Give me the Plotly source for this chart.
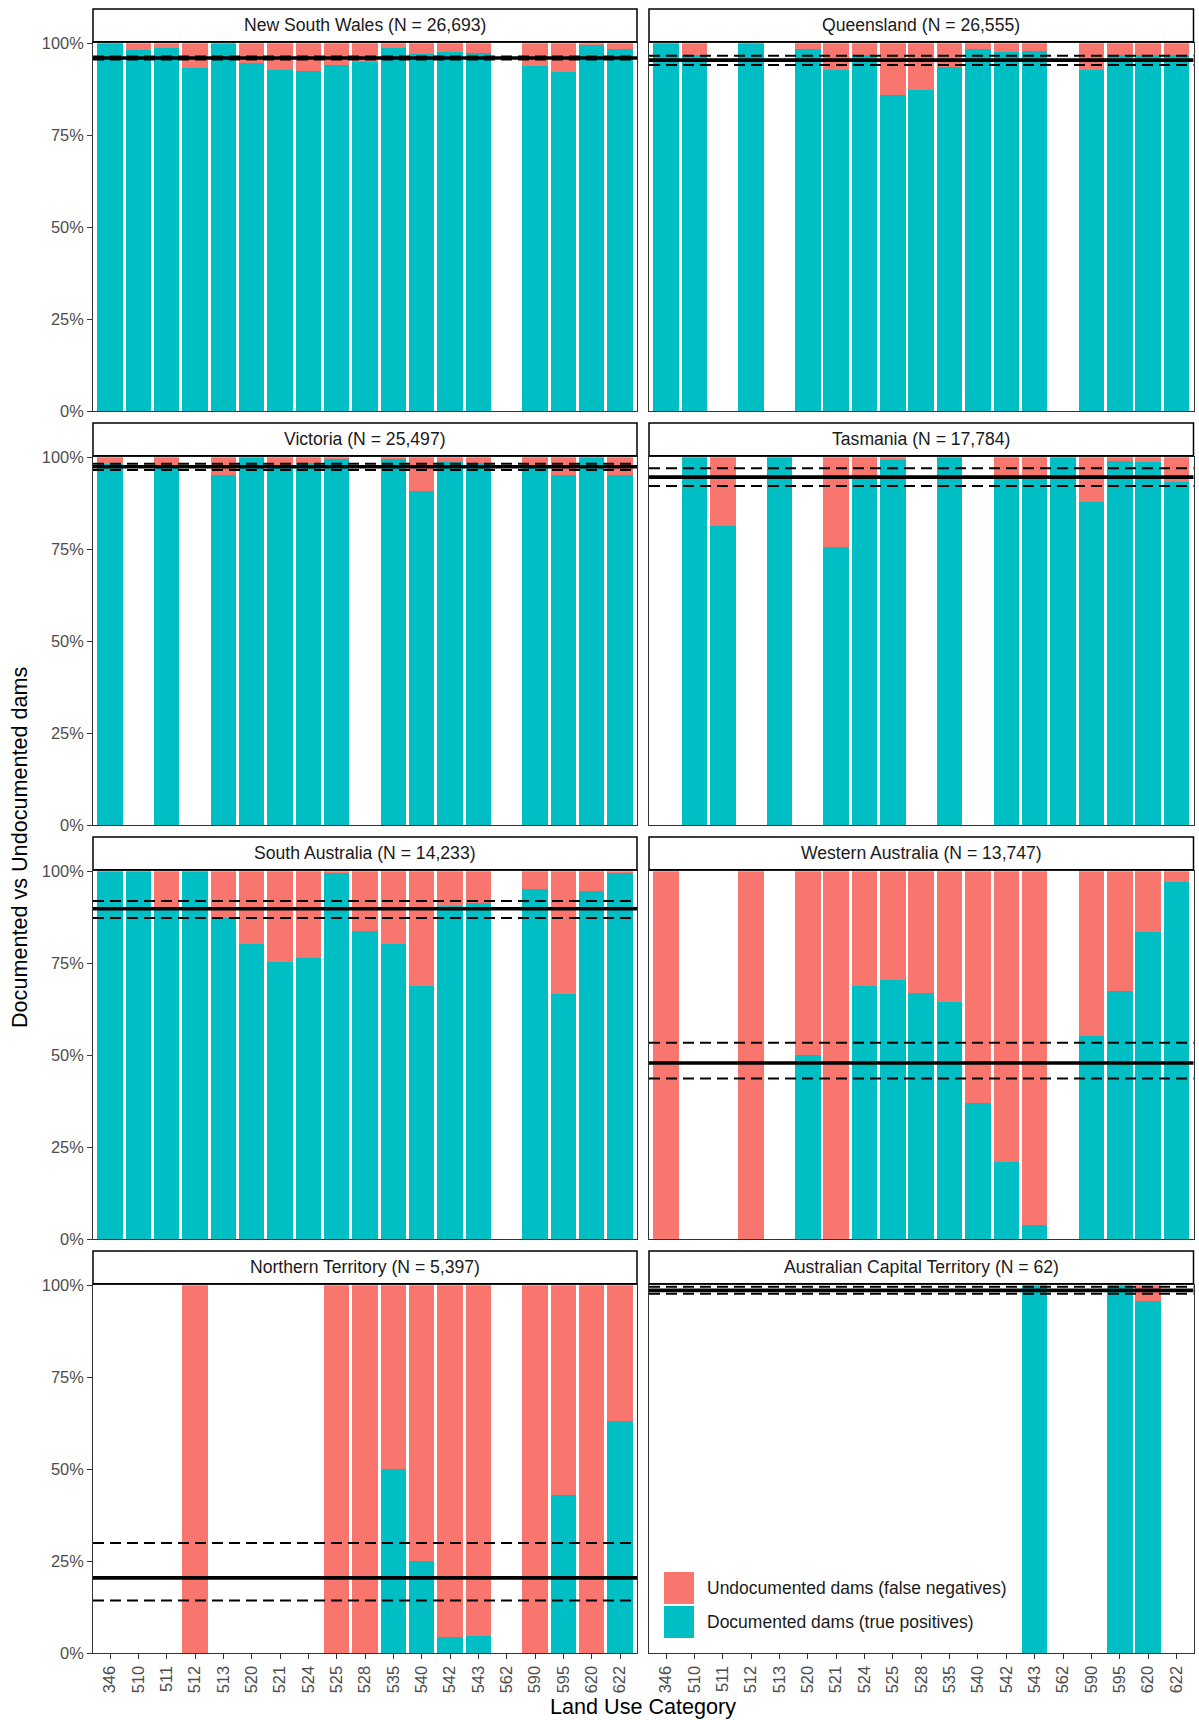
import plotly.graph_objects as go

# ---------------- data ----------------
categories = ["346", "510", "511", "512", "513", "520", "521", "524", "525", "528",
              "535", "540", "542", "543", "562", "590", "595", "620", "622"]

states = ["New South Wales", "Queensland", "Victoria", "Tasmania",
          "South Australia", "Western Australia", "Northern Territory",
          "Australian Capital Territory"]
n_dams = ["26,693", "26,555", "25,497", "17,784", "14,233", "13,747", "5,397", "62"]

# percentage of documented dams (true positives) per land-use category; None = no dams
documented_nsw = [100, 98.2, 98.8, 93.4, 100, 94.7, 92.8, 92.5, 94.1, 95.0,
                  98.8, 97.1, 97.7, 97.4, None, 93.9, 92.3, 99.4, 98.5]
documented_qld = [100, 96.8, None, 100, None, 98.5, 92.8, 96.8, 85.8, 87.4,
                  93.6, 98.5, 97.6, 97.9, None, 92.8, 96.8, 96.8, 96.8]
documented_vic = [98.2, None, 97.9, None, 95.3, 100, 98.0, 98.3, 99.5, None,
                  99.5, 90.8, 98.6, 98.4, None, 97.8, 95.1, 100, 95.1]
documented_tas = [None, 100, 81.4, None, 100, None, 75.6, 94.6, 99.2, None,
                  100, None, 95.3, 94.6, 100, 87.8, 99.0, 98.6, 93.2]
documented_sa = [100, 100, 90.3, 100, 87.4, 80.3, 75.4, 76.4, 99.5, 83.8,
                 80.3, 68.8, 90.6, 91.4, None, 95.2, 66.7, 94.7, 99.4]
documented_wa = [0, None, None, 0, None, 50.1, 0, 68.8, 70.5, 66.8,
                 64.5, 37.0, 21.1, 3.9, None, 55.3, 67.4, 83.6, 97.1]
documented_nt = [None, None, None, 0, None, None, None, None, 0, 0,
                 50.0, 25.0, 4.4, 4.8, None, 0, 43.0, 0, 63.1]
documented_act = [None, None, None, None, None, None, None, None, None, None,
                  None, None, None, 100, None, None, 100, 95.8, None]

documented = [documented_nsw, documented_qld, documented_vic, documented_tas,
              documented_sa, documented_wa, documented_nt, documented_act]

# overall detection rate (solid) and confidence interval (dashed), percent
mean_rate = [96.0, 95.4, 97.4, 94.6, 89.8, 47.9, 20.5, 98.6]
ci_lower = [95.6, 94.1, 96.5, 92.2, 87.3, 43.7, 14.4, 97.7]
ci_upper = [96.4, 96.6, 98.2, 97.0, 91.9, 53.4, 30.0, 99.6]

y_ticks = [0, 25, 50, 75, 100]
y_tick_labels = ["0%", "25%", "50%", "75%", "100%"]

# ---------------- style / layout ----------------
SALMON = "#F8766D"
TEAL = "#00BFC4"
FONT = "Liberation Sans, Arial, Helvetica, sans-serif"
W, H = 1199, 1720
col_x = [(93.0, 637.0), (649.0, 1193.5)]
row_top = [43.2, 457.2, 871.2, 1285.2]
PH = 368.2

fig = go.Figure()
shapes = []
annotations = []
layout_axes = {}

for i, state in enumerate(states):
    r, c = divmod(i, 2)
    idx = i + 1
    xn = "x" if idx == 1 else f"x{idx}"
    yn = "y" if idx == 1 else f"y{idx}"
    doc = documented[i]
    undoc = [None if v is None else round(100 - v, 2) for v in doc]

    fig.add_trace(go.Bar(x=categories, y=doc, marker=dict(color=TEAL, line=dict(width=0)),
                         xaxis=xn, yaxis=yn, showlegend=False,
                         name="Documented dams (true positives)"))
    fig.add_trace(go.Bar(x=categories, y=undoc, marker=dict(color=SALMON, line=dict(width=0)),
                         xaxis=xn, yaxis=yn, showlegend=False,
                         name="Undocumented dams (false negatives)"))

    x0, x1 = col_x[c]
    top = row_top[r]
    bottom = top + PH
    layout_axes["xaxis" if idx == 1 else f"xaxis{idx}"] = dict(
        domain=[x0 / W, x1 / W], anchor=yn, type="category",
        categoryorder="array", categoryarray=categories, range=[-0.6, 18.6],
        showline=True, mirror=True, linecolor="#333333", linewidth=1,
        showgrid=False, zeroline=False, automargin=False,
        ticks="outside" if r == 3 else "", ticklen=5, tickwidth=1, tickcolor="#333333",
        showticklabels=(r == 3), tickangle=-90,
        tickfont=dict(family=FONT, size=16.4, color="#4D4D4D"), fixedrange=True)
    layout_axes["yaxis" if idx == 1 else f"yaxis{idx}"] = dict(
        domain=[1 - bottom / H, 1 - top / H], anchor=xn, range=[0, 100],
        tickvals=y_ticks, ticktext=y_tick_labels,
        showline=True, mirror=True, linecolor="#333333", linewidth=1,
        showgrid=False, zeroline=False, automargin=False,
        ticks="outside" if c == 0 else "", ticklen=5, tickwidth=1, tickcolor="#333333",
        showticklabels=(c == 0),
        tickfont=dict(family=FONT, size=16.4, color="#4D4D4D"), fixedrange=True)

    # strip
    shapes.append(dict(type="rect", xref="paper", yref="paper",
                       x0=x0 / W, x1=x1 / W,
                       y0=1 - (top - 1.5) / H, y1=1 - (top - 34.2) / H,
                       line=dict(color="black", width=1.5), fillcolor="white", layer="above"))
    annotations.append(dict(xref="paper", yref="paper", x=(x0 + x1) / 2 / W,
                            y=1 - (top - 17.8) / H, text=f"{state} (N = {n_dams[i]})",
                            showarrow=False, xanchor="center", yanchor="middle",
                            font=dict(family=FONT, size=17.6, color="#1A1A1A")))

    # reference lines
    for val, w, dash in [(ci_upper[i], 2, "11px,6px"), (ci_lower[i], 2, "11px,6px"),
                         (mean_rate[i], 3.6, "solid")]:
        shapes.append(dict(type="line", xref=f"{xn} domain", yref=yn, x0=0, x1=1,
                           y0=val, y1=val, line=dict(color="black", width=w, dash=dash),
                           layer="above"))

# legend (inside ACT panel)
leg_items = [("Undocumented dams (false negatives)", SALMON, 1572.0),
             ("Documented dams (true positives)", TEAL, 1606.0)]
for label, colr, y_top in leg_items:
    shapes.append(dict(type="rect", xref="paper", yref="paper",
                       x0=664 / W, x1=694 / W, y0=1 - (y_top + 32) / H, y1=1 - y_top / H,
                       line=dict(width=0), fillcolor=colr, layer="above"))
    annotations.append(dict(xref="paper", yref="paper", x=705 / W, y=1 - (y_top + 16) / H,
                            text=label, showarrow=False, xanchor="left", yanchor="middle",
                            font=dict(family=FONT, size=17.5, color="#1A1A1A")))

# axis titles
annotations.append(dict(xref="paper", yref="paper", x=(93 + 1193.5) / 2 / W, y=1 - 1706 / H,
                        text="Land Use Category", showarrow=False,
                        xanchor="center", yanchor="middle",
                        font=dict(family=FONT, size=21.6, color="black")))
annotations.append(dict(xref="paper", yref="paper", x=19 / W, y=1 - 848 / H,
                        text="Documented vs Undocumented dams", showarrow=False, textangle=-90,
                        xanchor="center", yanchor="middle",
                        font=dict(family=FONT, size=21.6, color="black")))

fig.update_layout(
    width=W, height=H, margin=dict(l=0, r=0, t=0, b=0, pad=0, autoexpand=False),
    paper_bgcolor="white", plot_bgcolor="white",
    barmode="stack", bargap=0.1, showlegend=False,
    shapes=shapes, annotations=annotations,
    font=dict(family=FONT),
    **layout_axes)

fig.write_html("out.html", config={"displayModeBar": False},
               post_script="document.body.style.margin='0';")
